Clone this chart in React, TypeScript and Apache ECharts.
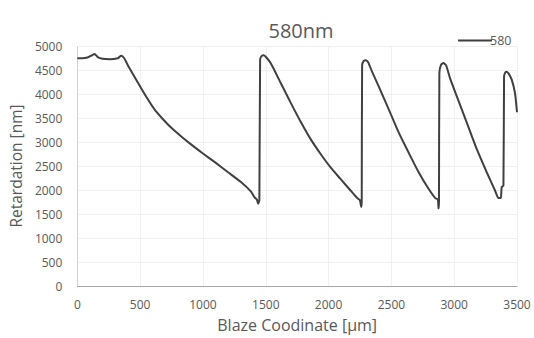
import React, { useEffect, useRef } from "react";
import * as echarts from "echarts";

const title = "580nm";
const seriesName = "580";
const xName = "Blaze Coodinate [μm]";
const yName = "Retardation [nm]";

const xs = [
  0, 40, 80, 112, 137, 162, 200, 260, 320, 350, 372,
  402, 455, 508, 561, 614, 680, 746, 825, 905, 1000, 1100, 1200, 1300, 1381, 1413, 1429, 1439, 1449,
  1455, 1468, 1485, 1505, 1540, 1619, 1698, 1778, 1857, 1937, 2016, 2095, 2175, 2228, 2249, 2260, 2264,
  2267, 2280, 2296, 2315, 2347, 2399, 2479, 2558, 2637, 2717, 2796, 2849, 2870, 2875, 2879,
  2882, 2896, 2915, 2935, 2968, 3021, 3101, 3180, 3259, 3325, 3352, 3371, 3378, 3392,
  3397, 3407, 3418, 3435, 3458, 3484, 3500,
];
const ys = [
  4745, 4745, 4760, 4800, 4835, 4770, 4735, 4725, 4745, 4795, 4750,
  4600, 4360, 4120, 3890, 3680, 3480, 3300, 3120, 2950, 2760, 2570, 2370, 2170, 1970, 1840, 1800, 1715, 1790,
  4720, 4795, 4805, 4760, 4640, 4230, 3820, 3420, 3060, 2750, 2470, 2230, 1990, 1832, 1790, 1646, 1760,
  4600, 4690, 4705, 4660, 4460, 4160, 3680, 3200, 2780, 2370, 2025, 1832, 1804, 1612, 1760,
  4440, 4610, 4645, 4600, 4320, 3950, 3400, 2850, 2370, 1990, 1832, 1832, 2060, 2093,
  4370, 4450, 4465, 4420, 4300, 4020, 3620,
];

const FONT = "'Open Sans', Lato, sans-serif";
const GRAY = "#595959";

export default function App() {
  const ref = useRef<HTMLDivElement>(null);
  useEffect(() => {
    if (!ref.current) return;
    const chart = echarts.init(ref.current, null, { renderer: "svg" });
    const data = xs.map((x, i) => [x, ys[i]]);
    chart.setOption({
      animation: false,
      backgroundColor: "#ffffff",
      textStyle: { fontFamily: FONT },
      title: {
        text: title,
        left: 296,
        top: 15,
        textAlign: "center",
        textStyle: { fontSize: 20, fontWeight: "normal", color: GRAY, fontFamily: FONT },
      },
      legend: {
        left: 453,
        top: 29,
        itemWidth: 34,
        itemHeight: 10,
        itemGap: 4,
        textStyle: { fontSize: 12.5, color: GRAY, fontFamily: FONT, padding: [0, 0, 0, -7] },
        data: [{ name: seriesName, icon: "path://M0,4 L34,4 L34,6 L0,6 Z" }],
      },
      grid: { left: 76, right: 17, top: 46, bottom: 50, containLabel: false },
      xAxis: {
        type: "value",
        min: 0,
        max: 3500,
        interval: 500,
        name: xName,
        nameLocation: "middle",
        nameGap: 31,
        nameTextStyle: { fontSize: 16, color: GRAY, fontFamily: FONT },
        axisLine: { show: true, lineStyle: { color: "#a6a6a6", width: 1 } },
        axisTick: { show: false },
        axisLabel: { fontSize: 12, color: GRAY, margin: 12, fontFamily: FONT, formatter: (v: number) => String(v) },
        splitLine: { show: true, lineStyle: { color: "#f0f0f0", width: 1 } },
      },
      yAxis: {
        type: "value",
        min: 0,
        max: 5000,
        interval: 500,
        name: yName,
        nameLocation: "middle",
        nameGap: 50,
        nameTextStyle: { fontSize: 15.5, color: GRAY, fontFamily: FONT },
        axisLine: { show: true, lineStyle: { color: "#c8c8c8", width: 1, type: "dotted" } },
        axisTick: { show: false },
        axisLabel: { fontSize: 12, color: GRAY, margin: 15, fontFamily: FONT, formatter: (v: number) => String(v) },
        splitLine: { show: true, lineStyle: { color: "#f0f0f0", width: 1 } },
      },
      series: [
        {
          name: seriesName,
          type: "line",
          data,
          symbol: "none",
          smooth: 0.2,
          lineStyle: { color: "#404040", width: 2 },
          itemStyle: { color: "#404040" },
        },
      ],
    });
    return () => chart.dispose();
  }, []);
  return <div ref={ref} style={{ width: 534, height: 338, position: "absolute", left: 0, top: 0 }} />;
}
